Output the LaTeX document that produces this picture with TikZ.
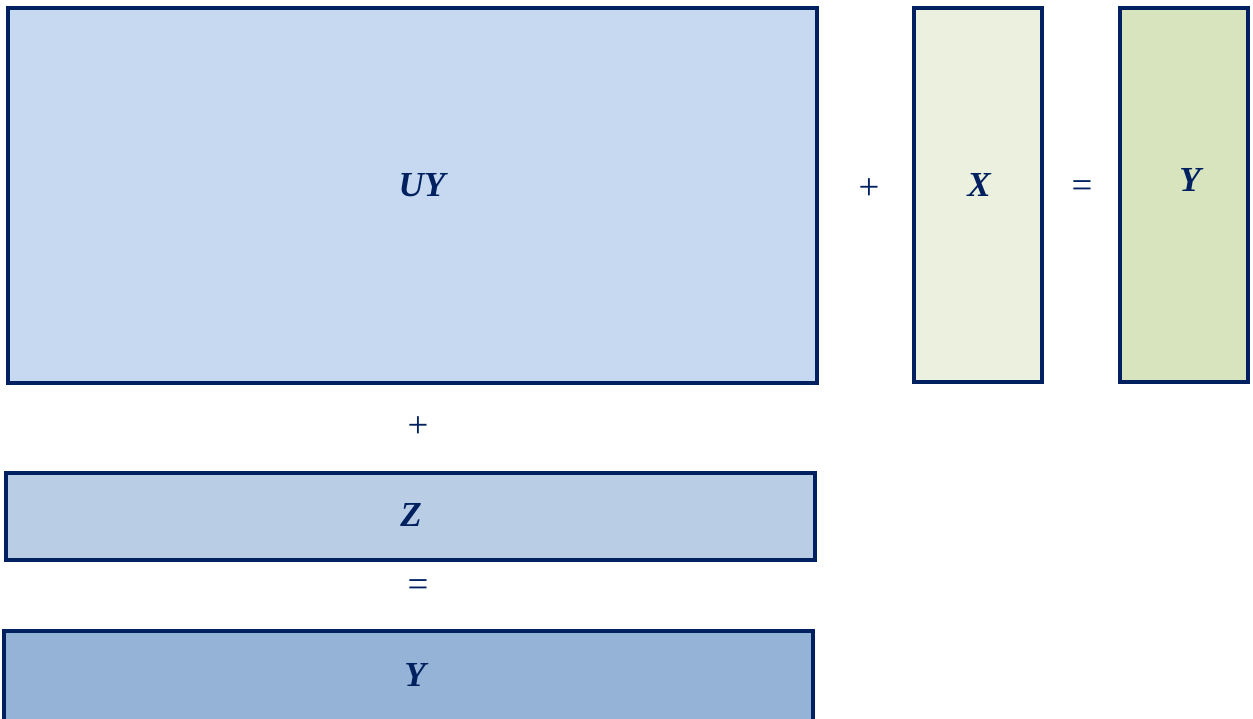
\documentclass[tikz,border=0pt]{standalone}
\usepackage{fontspec}
\setmainfont{Liberation Serif}
\definecolor{navy}{HTML}{002060}
\definecolor{uyfill}{HTML}{C6D9F0}
\definecolor{xfill}{HTML}{EBF1DE}
\definecolor{yfill}{HTML}{D7E4BD}
\definecolor{zfill}{HTML}{B9CDE5}
\definecolor{ybfill}{HTML}{95B3D7}
\tikzset{
  blk/.style={draw=navy,line width=1.8pt},
  lbl/.style={text=navy,font=\fontsize{20}{24}\selectfont\bfseries\itshape},
  op/.style={text=navy,font=\fontsize{21}{24}\selectfont}
}
\begin{document}
\begin{tikzpicture}[x=0.02cm,y=-0.02cm]
\useasboundingbox (0,0) rectangle (1253,718);
\begin{scope}
\clip (0,0) rectangle (1253,718);
% top row
\draw[blk,fill=uyfill] (8,8) rectangle (817,383);
\draw[blk,fill=xfill] (914,8) rectangle (1042,382);
\draw[blk,fill=yfill] (1120,8) rectangle (1248,382);
% left column
\draw[blk,fill=zfill] (6,473) rectangle (815,560);
\draw[blk,fill=ybfill] (4,631) rectangle (813,740);
\end{scope}
\node[lbl] (uy) at (422,185) {UY};
\node[lbl] (x) at (979,185) {X};
\node[lbl] (yr) at (1190,180) {Y};
\node[lbl] (z) at (411,515) {Z};
\node[lbl] (yb) at (415,675) {Y};
\node[op] (plusr) at (869,189) {+};
\node[op] (eqr) at (1082,189) {=};
\node[op] (plusd) at (418,427) {+};
\node[op] (eqd) at (418,588) {=};
\end{tikzpicture}
\end{document}
